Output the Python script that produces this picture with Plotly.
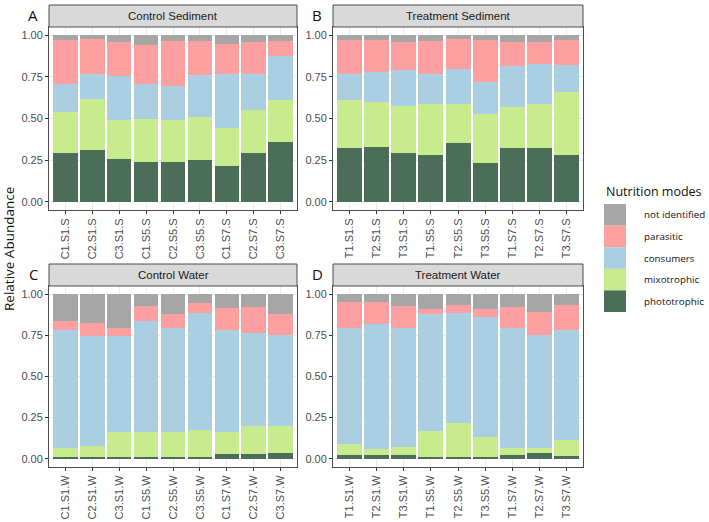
import plotly.graph_objects as go

modes = ["phototrophic", "mixotrophic", "consumers", "parasitic", "not identified"]
colors = {"phototrophic": "#4A6E57", "mixotrophic": "#C8EB8E", "consumers": "#AACFE2",
          "parasitic": "#FFA0A0", "not identified": "#A6A6A6"}

samples_A = ["C1.S1.S", "C2.S1.S", "C3.S1.S", "C1.S5.S", "C2.S5.S", "C3.S5.S", "C1.S7.S", "C2.S7.S", "C3.S7.S"]
samples_B = ["T1.S1.S", "T2.S1.S", "T3.S1.S", "T1.S5.S", "T2.S5.S", "T3.S5.S", "T1.S7.S", "T2.S7.S", "T3.S7.S"]
samples_C = ["C1.S1.W", "C2.S1.W", "C3.S1.W", "C1.S5.W", "C2.S5.W", "C3.S5.W", "C1.S7.W", "C2.S7.W", "C3.S7.W"]
samples_D = ["T1.S1.W", "T2.S1.W", "T3.S1.W", "T1.S5.W", "T2.S5.W", "T3.S5.W", "T1.S7.W", "T2.S7.W", "T3.S7.W"]

# Panel A: Control Sediment
A_photo = [0.29, 0.31, 0.255, 0.24, 0.24, 0.25, 0.215, 0.295, 0.36]
A_mixo = [0.25, 0.305, 0.235, 0.26, 0.25, 0.26, 0.23, 0.255, 0.25]
A_cons = [0.17, 0.15, 0.265, 0.21, 0.205, 0.25, 0.325, 0.215, 0.265]
A_para = [0.26, 0.21, 0.205, 0.23, 0.27, 0.205, 0.175, 0.195, 0.09]
A_ni = [0.03, 0.025, 0.04, 0.06, 0.035, 0.035, 0.055, 0.04, 0.035]

# Panel B: Treatment Sediment
B_photo = [0.32, 0.33, 0.29, 0.28, 0.355, 0.23, 0.325, 0.325, 0.28]
B_mixo = [0.29, 0.27, 0.285, 0.31, 0.235, 0.30, 0.245, 0.26, 0.38]
B_cons = [0.155, 0.18, 0.215, 0.18, 0.21, 0.19, 0.245, 0.245, 0.16]
B_para = [0.205, 0.19, 0.17, 0.195, 0.175, 0.25, 0.145, 0.13, 0.15]
B_ni = [0.03, 0.03, 0.04, 0.035, 0.025, 0.03, 0.04, 0.04, 0.03]

# Panel C: Control Water
C_photo = [0.012, 0.012, 0.012, 0.01, 0.012, 0.008, 0.03, 0.03, 0.035]
C_mixo = [0.056, 0.063, 0.153, 0.15, 0.153, 0.167, 0.13, 0.17, 0.165]
C_cons = [0.712, 0.67, 0.58, 0.68, 0.63, 0.71, 0.62, 0.565, 0.55]
C_para = [0.06, 0.08, 0.05, 0.09, 0.085, 0.06, 0.135, 0.155, 0.13]
C_ni = [0.16, 0.175, 0.205, 0.07, 0.12, 0.055, 0.085, 0.08, 0.12]

# Panel D: Treatment Water
D_photo = [0.025, 0.025, 0.025, 0.008, 0.012, 0.01, 0.025, 0.035, 0.015]
D_mixo = [0.063, 0.037, 0.047, 0.162, 0.208, 0.12, 0.04, 0.03, 0.10]
D_cons = [0.707, 0.758, 0.723, 0.71, 0.665, 0.73, 0.73, 0.69, 0.67]
D_para = [0.155, 0.13, 0.135, 0.03, 0.05, 0.05, 0.125, 0.14, 0.15]
D_ni = [0.05, 0.05, 0.07, 0.09, 0.065, 0.09, 0.08, 0.105, 0.065]

panel_titles = ["Control Sediment", "Treatment Sediment", "Control Water", "Treatment Water"]
panel_letters = ["A", "B", "C", "D"]
y_ticks = [0, 0.25, 0.5, 0.75, 1.0]
y_ticklabels = ["0.00", "0.25", "0.50", "0.75", "1.00"]

panels = [
    (samples_A, [A_photo, A_mixo, A_cons, A_para, A_ni]),
    (samples_B, [B_photo, B_mixo, B_cons, B_para, B_ni]),
    (samples_C, [C_photo, C_mixo, C_cons, C_para, C_ni]),
    (samples_D, [D_photo, D_mixo, D_cons, D_para, D_ni]),
]

W, H = 709, 522
def px(x): return x / W
def py(y): return 1 - y / H

# pixel layout of panel plot areas: (x0, x1, y_top, y_bottom)
boxes = [(49, 297, 27, 210), (333, 583, 27, 210), (49, 297, 286, 467), (333, 583, 286, 467)]
strip_h = 22

fig = go.Figure()
shapes = []
annotations = []
layout_axes = {}
tickfont = dict(family="Liberation Sans, Arial", size=11, color="#4d4d4d")

for i, ((samples, series), (x0, x1, yt, yb)) in enumerate(zip(panels, boxes)):
    n = i + 1
    xa = "x" if n == 1 else f"x{n}"
    ya = "y" if n == 1 else f"y{n}"
    for m, vals in zip(modes, series):
        fig.add_trace(go.Bar(x=samples, y=vals, name=m, marker=dict(color=colors[m], line=dict(width=0)),
                             xaxis=xa, yaxis=ya, showlegend=False))
    xkey = "xaxis" if n == 1 else f"xaxis{n}"
    ykey = "yaxis" if n == 1 else f"yaxis{n}"
    layout_axes[xkey] = dict(domain=[px(x0), px(x1)], anchor=ya, type="category",
                             categoryorder="array", categoryarray=samples,
                             range=[-0.6, len(samples) - 0.4], tickangle=-90,
                             ticks="outside", ticklen=3, tickcolor="#333333", tickwidth=1,
                             tickfont=tickfont, showgrid=True, gridcolor="#ebebeb",
                             showline=True, linecolor="#4d4d4d", mirror=True, linewidth=1,
                             zeroline=False, fixedrange=True)
    layout_axes[ykey] = dict(domain=[py(yb), py(yt)], anchor=xa, range=[-0.05, 1.05],
                             tickvals=y_ticks, ticktext=y_ticklabels,
                             ticks="outside", ticklen=3, tickcolor="#333333", tickwidth=1,
                             tickfont=tickfont, showgrid=True, gridcolor="#ebebeb",
                             showline=True, linecolor="#4d4d4d", mirror=True, linewidth=1,
                             zeroline=False, fixedrange=True)
    # strip
    shapes.append(dict(type="rect", xref="paper", yref="paper", x0=px(x0), x1=px(x1),
                       y0=py(yt), y1=py(yt - strip_h), fillcolor="#d9d9d9",
                       line=dict(color="#4d4d4d", width=1), layer="above"))
    annotations.append(dict(text=panel_titles[i], xref="paper", yref="paper",
                            x=(px(x0) + px(x1)) / 2, y=py(yt - strip_h / 2), showarrow=False,
                            xanchor="center", yanchor="middle",
                            font=dict(family="Liberation Sans, Arial", size=11.5, color="#1a1a1a")))
    annotations.append(dict(text=panel_letters[i], xref="paper", yref="paper",
                            x=px(x0 - 16), y=py(yt - strip_h / 2 - 1), showarrow=False,
                            xanchor="center", yanchor="middle",
                            font=dict(family="Open Sans", size=15, color="#111111")))

# y axis title
annotations.append(dict(text="Relative Abundance", xref="paper", yref="paper", x=px(9), y=py(249),
                        showarrow=False, textangle=-90, xanchor="center", yanchor="middle",
                        font=dict(family="Open Sans", size=13.5, color="#111111")))

# legend (manual)
annotations.append(dict(text="Nutrition modes", xref="paper", yref="paper", x=px(604), y=py(191),
                        showarrow=False, xanchor="left", yanchor="middle",
                        font=dict(family="Open Sans", size=12.5, color="#111111")))
legend_order = ["not identified", "parasitic", "consumers", "mixotrophic", "phototrophic"]
key_top = 204
key_h = 21.6
for k, m in enumerate(legend_order):
    t = key_top + k * key_h
    shapes.append(dict(type="rect", xref="paper", yref="paper", x0=px(604), x1=px(626),
                       y0=py(t + key_h), y1=py(t), fillcolor=colors[m], line=dict(width=0)))
    annotations.append(dict(text=m, xref="paper", yref="paper", x=px(642), y=py(t + key_h / 2),
                            showarrow=False, xanchor="left", yanchor="middle",
                            font=dict(family="Open Sans", size=9.8, color="#111111")))

fig.update_layout(width=W, height=H, margin=dict(l=0, r=0, t=0, b=0), barmode="stack",
                  bargap=0.08, plot_bgcolor="white", paper_bgcolor="white",
                  shapes=shapes, annotations=annotations, showlegend=False, **layout_axes)

fig.write_html("out.html")
